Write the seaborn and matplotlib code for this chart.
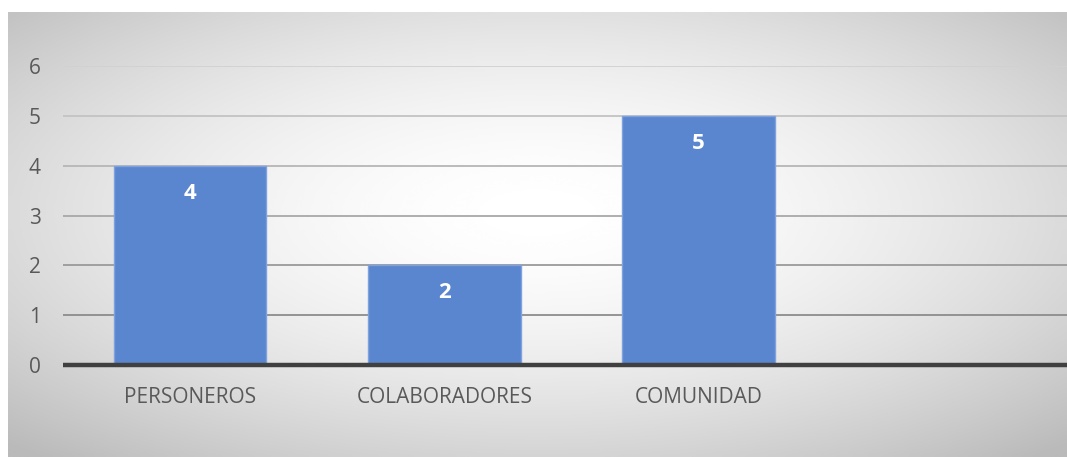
import numpy as np
import pandas as pd
import matplotlib
matplotlib.use("Agg")
import matplotlib.pyplot as plt
import seaborn as sns

categories = ["PERSONEROS", "COLABORADORES", "COMUNIDAD"]
values = [4, 2, 5]
y_ticks = [0, 1, 2, 3, 4, 5, 6]

df = pd.DataFrame({"categoria": categories, "valor": values})

sns.set_style("white")
plt.rcParams["font.family"] = ["Open Sans", "DejaVu Sans"]

W, H = 1067, 457
fig = plt.figure(figsize=(W / 100, H / 100), dpi=100)
fig.patch.set_facecolor("white")

# radial grey-to-white background of the chart area
bg = fig.add_axes([8 / W, 0, 1 - 8 / W, 1 - 12 / H])
gx, gy = np.meshgrid(np.linspace(-1, 1, 400), np.linspace(-1, 1, 200))
r = np.sqrt(gx ** 2 + (gy + 0.1) ** 2) / 1.45
r = np.clip(r, 0, 1)
shade = 1.0 - 0.27 * r ** 1.7
bg.imshow(shade, cmap="gray", vmin=0, vmax=1, aspect="auto",
          extent=(0, 1, 0, 1), interpolation="bicubic")
bg.axis("off")

ax = fig.add_axes([63 / W, 1 - 365 / H, (1080 - 63) / W, (365 - 66) / H])
ax.patch.set_alpha(0)

sns.barplot(data=df, x="categoria", y="valor", ax=ax, color="#5a86cf",
            saturation=1, width=0.6, edgecolor="#7fa2de", linewidth=1.0,
            zorder=3)

ax.set_xlim(-0.5, 3.5)
ax.set_ylim(0, 6)
ax.set_yticks(y_ticks)

# gridlines, darker towards the bottom
for v in y_ticks[1:]:
    g = 0.55 + 0.27 * (v - 1) / 5
    ax.axhline(v, color=(g, g, g), linewidth=1.3, zorder=1)
ax.axhline(0, color="#404040", linewidth=3.2, zorder=4, clip_on=False,
           solid_capstyle="butt")

for i, v in enumerate(values):
    ax.text(i, v - 0.55, str(v), ha="center", va="center", color="white",
            fontsize=16, fontweight="bold", zorder=5)

for s in ax.spines.values():
    s.set_visible(False)
ax.set_xlabel("")
ax.set_ylabel("")
ax.tick_params(axis="both", length=0, labelsize=15, labelcolor="#595959")
ax.tick_params(axis="y", pad=16)
ax.tick_params(axis="x", pad=16)

fig.savefig("out.png", dpi=100)
